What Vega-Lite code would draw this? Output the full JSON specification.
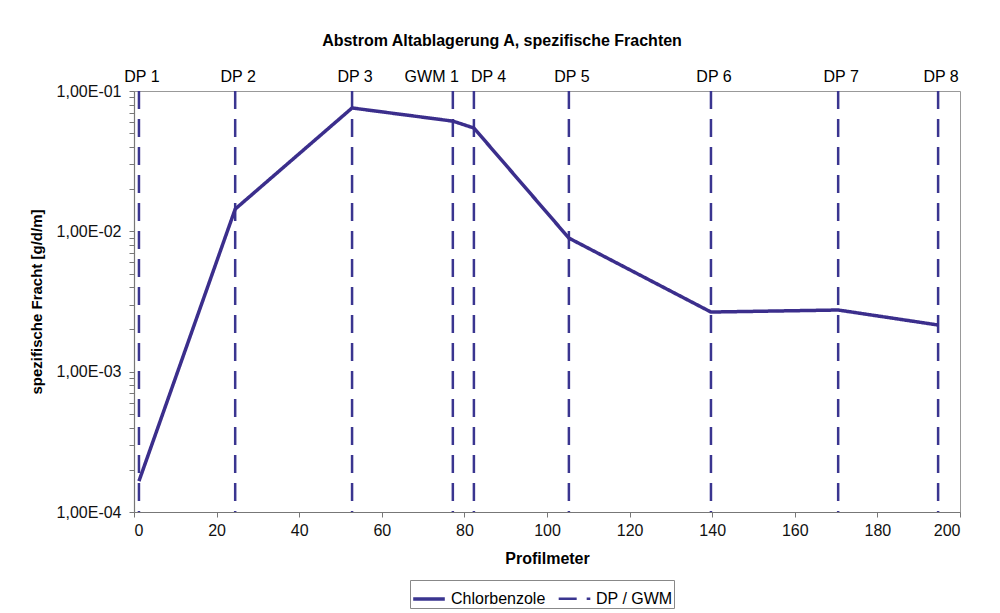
{
  "$schema": "https://vega.github.io/schema/vega-lite/v6.json",
  "width": 826,
  "height": 421,
  "autosize": {"type": "none"},
  "padding": {"left": 134, "top": 91, "right": 40, "bottom": 101},
  "background": "white",
  "title": {
    "text": "Abstrom Altablagerung A, spezifische Frachten",
    "font": "Liberation Sans",
    "fontSize": 16,
    "fontWeight": "bold",
    "color": "#000000",
    "anchor": "middle",
    "dx": -45,
    "offset": 20
  },
  "datasets": {
    "fracht": [
      {"m": 1.2, "v": 0.000166, "serie": "Chlorbenzole"},
      {"m": 24.5, "v": 0.0144, "serie": "Chlorbenzole"},
      {"m": 52.8, "v": 0.0757, "serie": "Chlorbenzole"},
      {"m": 77.2, "v": 0.061, "serie": "Chlorbenzole"},
      {"m": 82.3, "v": 0.0545, "serie": "Chlorbenzole"},
      {"m": 105.3, "v": 0.00895, "serie": "Chlorbenzole"},
      {"m": 139.7, "v": 0.00266, "serie": "Chlorbenzole"},
      {"m": 170.5, "v": 0.00275, "serie": "Chlorbenzole"},
      {"m": 194.7, "v": 0.00215, "serie": "Chlorbenzole"}
    ],
    "punkte": [
      {"m": 1.2, "name": "DP 1", "serie": "DP / GWM"},
      {"m": 24.5, "name": "DP 2", "serie": "DP / GWM"},
      {"m": 52.8, "name": "DP 3", "serie": "DP / GWM"},
      {"m": 77.2, "name": "GWM 1", "serie": "DP / GWM"},
      {"m": 82.3, "name": "DP 4", "serie": "DP / GWM"},
      {"m": 105.3, "name": "DP 5", "serie": "DP / GWM"},
      {"m": 139.7, "name": "DP 6", "serie": "DP / GWM"},
      {"m": 170.5, "name": "DP 7", "serie": "DP / GWM"},
      {"m": 194.7, "name": "DP 8", "serie": "DP / GWM"}
    ]
  },
  "layer": [
    {
      "data": {"name": "punkte"},
      "mark": {"type": "rule", "color": "#3a3590"},
      "encoding": {
        "x": {"field": "m", "type": "quantitative"},
        "strokeDash": {"field": "serie", "type": "nominal"},
        "strokeWidth": {"field": "serie", "type": "nominal"}
      }
    },
    {
      "data": {"name": "punkte"},
      "transform": [{"filter": "datum.name != 'GWM 1' && datum.name != 'DP 4'"}],
      "mark": {"type": "text", "baseline": "bottom", "dy": -6, "dx": 3, "font": "Liberation Sans", "fontSize": 16, "color": "#000000"},
      "encoding": {
        "x": {"field": "m", "type": "quantitative"},
        "y": {"datum": 0.1},
        "text": {"field": "name"}
      }
    },
    {
      "data": {"name": "punkte"},
      "transform": [{"filter": "datum.name == 'GWM 1'"}],
      "mark": {"type": "text", "baseline": "bottom", "align": "right", "dy": -6, "dx": 6, "font": "Liberation Sans", "fontSize": 16, "color": "#000000"},
      "encoding": {
        "x": {"field": "m", "type": "quantitative"},
        "y": {"datum": 0.1},
        "text": {"field": "name"}
      }
    },
    {
      "data": {"name": "punkte"},
      "transform": [{"filter": "datum.name == 'DP 4'"}],
      "mark": {"type": "text", "baseline": "bottom", "align": "left", "dy": -6, "dx": -3, "font": "Liberation Sans", "fontSize": 16, "color": "#000000"},
      "encoding": {
        "x": {"field": "m", "type": "quantitative"},
        "y": {"datum": 0.1},
        "text": {"field": "name"}
      }
    },
    {
      "data": {"name": "fracht"},
      "mark": {"type": "line", "color": "#3b2e8c", "strokeJoin": "miter"},
      "encoding": {
        "x": {
          "field": "m",
          "type": "quantitative",
          "scale": {"domain": [0, 200], "nice": false, "zero": false},
          "axis": {
            "title": "Profilmeter",
            "values": [0, 20, 40, 60, 80, 100, 120, 140, 160, 180, 200],
            "grid": false,
            "domainColor": "#777777",
            "tickColor": "#777777",
            "tickSize": 5,
            "labelFont": "Liberation Sans",
            "labelFontSize": 16,
            "labelColor": "#111111",
            "labelPadding": 5,
            "titleFont": "Liberation Sans",
            "titleFontSize": 16,
            "titleFontWeight": "bold",
            "titleColor": "#000000",
            "titlePadding": 12
          }
        },
        "y": {
          "field": "v",
          "type": "quantitative",
          "scale": {"type": "log", "domain": [0.0001, 0.1], "nice": false},
          "axis": {
            "title": "spezifische Fracht [g/d/m]",
            "values": [0.0001, 0.0002, 0.0003, 0.0004, 0.0005, 0.0006, 0.0007, 0.0008, 0.0009, 0.001, 0.002, 0.003, 0.004, 0.005, 0.006, 0.007, 0.008, 0.009, 0.01, 0.02, 0.03, 0.04, 0.05, 0.06, 0.07, 0.08, 0.09, 0.1],
            "labelExpr": "abs(log(datum.value)/LN10 - round(log(datum.value)/LN10)) < 0.000001 ? '1,00E-0' + (-round(log(datum.value)/LN10)) : ''",
            "grid": false,
            "domainColor": "#777777",
            "tickColor": "#777777",
            "tickSize": 5,
            "labelFont": "Liberation Sans",
            "labelFontSize": 16,
            "labelColor": "#111111",
            "labelPadding": 8,
            "labelBound": false,
            "labelFlush": false,
            "labelOverlap": false,
            "titleFont": "Liberation Sans",
            "titleFontSize": 15,
            "titleFontWeight": "bold",
            "titleColor": "#000000",
            "titlePadding": 12
          }
        },
        "strokeDash": {
          "field": "serie",
          "type": "nominal",
          "scale": {"domain": ["Chlorbenzole", "DP / GWM"], "range": [[1, 0], [18, 10]]},
          "legend": {
            "title": null,
            "orient": "none",
            "legendX": 276,
            "legendY": 489,
            "direction": "horizontal",
            "strokeColor": "#888888",
            "padding": 1,
            "symbolType": "stroke",
            "symbolSize": 1000,
            "symbolStrokeColor": "#3b2e8c",
            "labelFont": "Liberation Sans",
            "labelFontSize": 16,
            "labelColor": "#000000",
            "columnPadding": 7,
            "labelOffset": 4
          }
        },
        "strokeWidth": {
          "field": "serie",
          "type": "nominal",
          "scale": {"domain": ["Chlorbenzole", "DP / GWM"], "range": [3.5, 2.5]}
        }
      }
    }
  ],
  "config": {
    "view": {"stroke": "#999999", "strokeWidth": 1},
    "axis": {"domainWidth": 1.2}
  }
}
